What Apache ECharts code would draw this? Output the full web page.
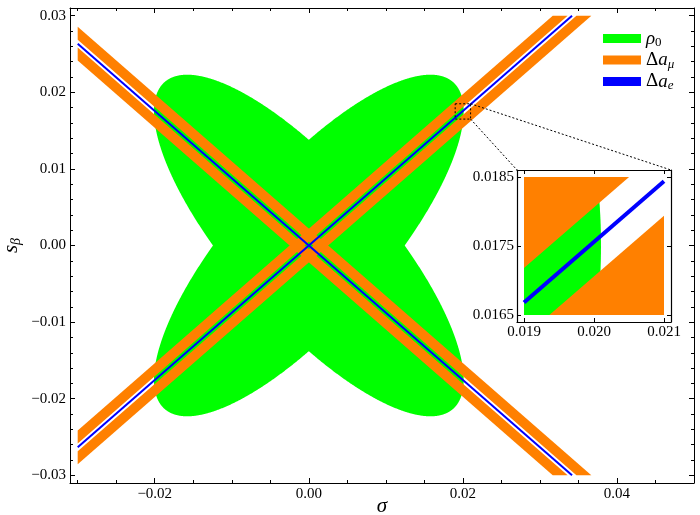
<!DOCTYPE html>
<html>
<head>
<meta charset="utf-8">
<script src="https://cdn.jsdelivr.net/npm/echarts@6/dist/echarts.min.js"></script>
<style>
  html, body { margin: 0; padding: 0; background: #fff; }
  #chart { width: 700px; height: 515px; }
</style>
</head>
<body>
<div id="chart"></div>
<script>
// ---- axis ranges -------------------------------------------------------
const mainX = [-0.031, 0.050];
const mainY = [-0.031, 0.031];
// box over which the constraint regions are evaluated
const regionX = [-0.03, 0.05];
const regionY = [-0.03, 0.03];
// magnified window and the inset's axis ranges
const zoomX = [0.019, 0.021];
const zoomY = [0.0165, 0.0185];
const zoomAxisX = [0.0189, 0.0211];
const zoomAxisY = [0.0164, 0.0186];

// ---- constraint regions -----------------------------------------------
// rho_0: two lobes, each an ellipse about the origin given as (sxx, sxy, syy)
const rhoLobes = [
  [0.000404, 0.000352, 0.000497],
  [0.000404, -0.000352, 0.000497]
];
// Delta a_e: the two branches s_beta = k * sigma
const branchSlopes = [0.878, -0.878];
// Delta a_mu: strips on both sides of each branch (inner, outer vertical offset)
const muStrip = [0.0005, 0.0022];

// ---- ticks --------------------------------------------------------------
const xMajor = [-0.02, 0.0, 0.02, 0.04];
const xMinor = [-0.03, -0.025, -0.015, -0.01, -0.005, 0.005, 0.01, 0.015,
                0.025, 0.03, 0.035, 0.045];
const yMajor = [-0.03, -0.02, -0.01, 0.0, 0.01, 0.02, 0.03];
const yMinor = [-0.028, -0.026, -0.024, -0.022, -0.018, -0.016, -0.014, -0.012,
                -0.008, -0.006, -0.004, -0.002, 0.002, 0.004, 0.006, 0.008,
                0.012, 0.014, 0.016, 0.018, 0.022, 0.024, 0.026, 0.028];
const zoomXMajor = [0.019, 0.020, 0.021];
const zoomYMajor = [0.0165, 0.0175, 0.0185];

const GREEN = '#00ff00';
const ORANGE = '#ff8000';
const BLUE = '#0000ff';
const SERIF = "'Liberation Serif', 'Times New Roman', serif";

// ---- geometry helpers ---------------------------------------------------
function cutAt(a, b, dim, v) {
  const t = (v - a[dim]) / (b[dim] - a[dim]);
  return [a[0] + t * (b[0] - a[0]), a[1] + t * (b[1] - a[1])];
}
// Sutherland–Hodgman clip of a polygon against an axis-aligned box
function clipToBox(poly, xr, yr) {
  const planes = [
    [p => p[0] >= xr[0], 0, xr[0]],
    [p => p[0] <= xr[1], 0, xr[1]],
    [p => p[1] >= yr[0], 1, yr[0]],
    [p => p[1] <= yr[1], 1, yr[1]]
  ];
  let out = poly;
  for (const [inside, dim, v] of planes) {
    const src = out;
    out = [];
    for (let i = 0; i < src.length; i++) {
      const cur = src[i], prev = src[(i + src.length - 1) % src.length];
      const ci = inside(cur), pi = inside(prev);
      if (ci) {
        if (!pi) out.push(cutAt(prev, cur, dim, v));
        out.push(cur);
      } else if (pi) {
        out.push(cutAt(prev, cur, dim, v));
      }
    }
    if (!out.length) break;
  }
  return out;
}
function lobeOutline(s, n) {
  const l11 = Math.sqrt(s[0]);
  const l21 = s[1] / l11;
  const l22 = Math.sqrt(s[2] - l21 * l21);
  const pts = [];
  for (let i = 0; i < n; i++) {
    const t = 2 * Math.PI * i / n;
    pts.push([l11 * Math.cos(t), l21 * Math.cos(t) + l22 * Math.sin(t)]);
  }
  return pts;
}
function stripOutline(k, lo, hi) {
  return [[-1, -k + lo], [1, k + lo], [1, k + hi], [-1, -k + hi]];
}
function branchSegment(k, xr, yr) {
  const a = yr[0] / k, b = yr[1] / k;
  const lo = Math.max(xr[0], Math.min(a, b));
  const hi = Math.min(xr[1], Math.max(a, b));
  return [[lo, k * lo], [hi, k * hi]];
}

function regionsIn(xr, yr) {
  const rho = rhoLobes.map(s => clipToBox(lobeOutline(s, 1440), xr, yr)).filter(p => p.length > 2);
  const mu = [];
  branchSlopes.forEach(k => {
    mu.push(clipToBox(stripOutline(k, muStrip[0], muStrip[1]), xr, yr));
    mu.push(clipToBox(stripOutline(k, -muStrip[1], -muStrip[0]), xr, yr));
  });
  const e = branchSlopes.map(k => branchSegment(k, xr, yr));
  return { rho, mu: mu.filter(p => p.length > 2), e };
}

function polygonSeries(name, color, polys, axisIndex, z) {
  return {
    type: 'custom', name, coordinateSystem: 'cartesian2d',
    xAxisIndex: axisIndex, yAxisIndex: axisIndex, clip: true, z,
    silent: true, animation: false,
    itemStyle: { color },
    data: polys.map(p => p[0]),
    renderItem: (params, api) => ({
      type: 'polygon',
      shape: { points: polys[params.dataIndex].map(p => api.coord(p)) },
      style: { fill: color }
    })
  };
}
function branchSeries(seg, axisIndex, width) {
  return {
    type: 'line', name: 'Δae', xAxisIndex: axisIndex, yAxisIndex: axisIndex,
    data: seg, symbol: 'none', showSymbol: false, clip: true, z: 3,
    silent: true, animation: false,
    lineStyle: { color: BLUE, width }, itemStyle: { color: BLUE }
  };
}

function axis(gridIndex, position, range, ticks, len, extra) {
  return Object.assign({
    type: 'value', gridIndex, position, min: range[0], max: range[1],
    splitLine: { show: false },
    axisLine: { show: false, onZero: false },
    axisTick: { show: true, inside: true, length: len, customValues: ticks,
                lineStyle: { color: '#000', width: 1 } },
    axisLabel: { show: false }
  }, extra || {});
}
const frameLine = w => ({ show: true, onZero: false, lineStyle: { color: '#000', width: w } });
const signed = d => v => (v < 0 ? '\u2212' : '') + Math.abs(v).toFixed(d);
const tickFont = { fontFamily: SERIF, fontSize: 15, color: '#000' };

const mainRegions = regionsIn(regionX, regionY);
const zoomRegions = regionsIn(zoomX, zoomY);

const chart = echarts.init(document.getElementById('chart'));

const rich = {
  it:   { fontFamily: SERIF, fontStyle: 'italic', fontSize: 19, lineHeight: 22, color: '#000' },
  up:   { fontFamily: SERIF, fontSize: 19, lineHeight: 22, color: '#000' },
  sub:  { fontFamily: SERIF, fontSize: 13, lineHeight: 10, verticalAlign: 'bottom', color: '#000' },
  subi: { fontFamily: SERIF, fontStyle: 'italic', fontSize: 13, lineHeight: 10, verticalAlign: 'bottom', color: '#000' }
};
const legendText = {
  'ρ0': '{it|ρ}{sub|0}',
  'Δaμ': '{up|Δ}{it|a}{subi|μ}',
  'Δae': '{up|Δ}{it|a}{subi|e}'
};

chart.setOption({
  animation: false,
  backgroundColor: '#fff',
  grid: [
    { left: 70, top: 8, width: 624, height: 475, containLabel: false, outerBoundsMode: 'none' },
    { left: 517, top: 170, width: 154, height: 152, containLabel: false, outerBoundsMode: 'none' }
  ],
  xAxis: [
    axis(0, 'bottom', mainX, xMajor, 5, {
      axisLine: frameLine(1),
      axisLabel: { show: true, customValues: xMajor, formatter: signed(2), margin: 4, ...tickFont },
      name: 'σ', nameLocation: 'middle', nameGap: 13, nameMoveOverlap: false,
      nameTextStyle: { fontFamily: SERIF, fontStyle: 'italic', fontSize: 21, color: '#000' }
    }),
    axis(0, 'bottom', mainX, xMinor, 3),
    axis(0, 'top', mainX, xMajor, 5, { axisLine: frameLine(1) }),
    axis(0, 'top', mainX, xMinor, 3),
    axis(1, 'bottom', zoomAxisX, zoomXMajor, 4, {
      axisLine: frameLine(1.2),
      axisLabel: { show: true, customValues: zoomXMajor, formatter: signed(3), margin: 3, ...tickFont }
    }),
    axis(1, 'top', zoomAxisX, zoomXMajor, 4, { axisLine: frameLine(1.2) })
  ],
  yAxis: [
    axis(0, 'left', mainY, yMajor, 5, {
      axisLine: frameLine(1),
      axisLabel: { show: true, customValues: yMajor, formatter: signed(2), margin: 4, ...tickFont },
      name: '{it|s}{subi|β}', nameLocation: 'middle', nameGap: 47, nameRotate: 90, nameMoveOverlap: false,
      nameTextStyle: { fontFamily: SERIF, fontSize: 21, color: '#000', rich: {
        it: { fontFamily: SERIF, fontStyle: 'italic', fontSize: 21, lineHeight: 24, color: '#000' },
        subi: { fontFamily: SERIF, fontStyle: 'italic', fontSize: 14, lineHeight: 11, verticalAlign: 'bottom', color: '#000' }
      } }
    }),
    axis(0, 'left', mainY, yMinor, 3),
    axis(0, 'right', mainY, yMajor, 5, { axisLine: frameLine(1) }),
    axis(0, 'right', mainY, yMinor, 3),
    axis(1, 'left', zoomAxisY, zoomYMajor, 4, {
      axisLine: frameLine(1.2),
      axisLabel: { show: true, customValues: zoomYMajor, formatter: signed(4), margin: 3, ...tickFont }
    }),
    axis(1, 'right', zoomAxisY, zoomYMajor, 4, { axisLine: frameLine(1.2) })
  ],
  legend: {
    orient: 'vertical', left: 598, top: 24, itemWidth: 38, itemHeight: 9, itemGap: 1,
    icon: 'rect', selectedMode: false,
    data: ['ρ0', 'Δaμ', 'Δae'],
    formatter: n => legendText[n],
    textStyle: { fontFamily: SERIF, fontSize: 19, color: '#000', rich }
  },
  series: [
    polygonSeries('ρ0', GREEN, mainRegions.rho, 0, 1),
    polygonSeries('Δaμ', ORANGE, mainRegions.mu, 0, 2),
    ...mainRegions.e.map(seg => branchSeries(seg, 0, 2)),
    polygonSeries('ρ0', GREEN, zoomRegions.rho, 4, 1),
    polygonSeries('Δaμ', ORANGE, zoomRegions.mu, 4, 2),
    ...zoomRegions.e.map(seg => branchSeries(seg, 4, 4))
  ]
});

// dashed box around the magnified window and the dotted leaders to the inset
const mainFinder = { xAxisIndex: 0, yAxisIndex: 0 };
const insetFinder = { xAxisIndex: 4, yAxisIndex: 4 };
const boxTL = chart.convertToPixel(mainFinder, [zoomX[0], zoomY[1]]);
const boxBR = chart.convertToPixel(mainFinder, [zoomX[1], zoomY[0]]);
const boxTR = chart.convertToPixel(mainFinder, [zoomX[1], zoomY[1]]);
const insetTL = chart.convertToPixel(insetFinder, [zoomAxisX[0], zoomAxisY[1]]);
const insetTR = chart.convertToPixel(insetFinder, [zoomAxisX[1], zoomAxisY[1]]);
const dotted = { stroke: '#000', lineWidth: 1, lineDash: [2, 2], fill: null };

chart.setOption({
  graphic: [
    { type: 'rect', z: 10, silent: true,
      shape: { x: boxTL[0], y: boxTL[1], width: boxBR[0] - boxTL[0], height: boxBR[1] - boxTL[1] },
      style: dotted },
    { type: 'line', z: 10, silent: true,
      shape: { x1: boxTR[0], y1: boxTR[1], x2: insetTR[0], y2: insetTR[1] }, style: dotted },
    { type: 'line', z: 10, silent: true,
      shape: { x1: boxBR[0], y1: boxBR[1], x2: insetTL[0], y2: insetTL[1] }, style: dotted }
  ]
});
</script>
</body>
</html>
